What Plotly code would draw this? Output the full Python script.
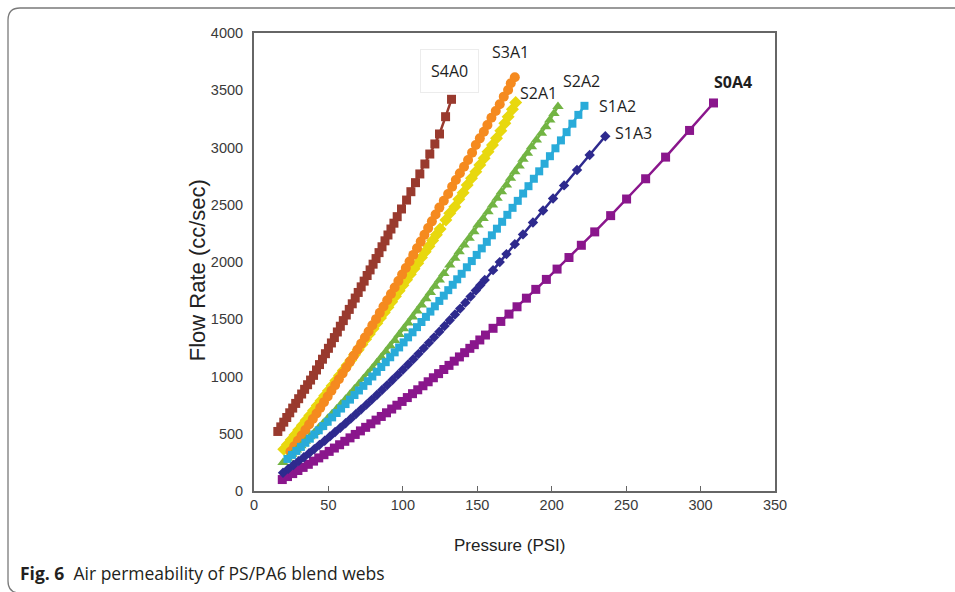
import plotly.graph_objects as go

# ---------------- data ----------------
s4a0_x = [16, 18, 20, 22, 24, 26, 28, 30, 32, 34, 36, 38, 40, 42, 44, 46, 48, 50, 52, 54,
          56, 58, 60, 62, 64, 66, 68, 70, 72, 74, 76, 78, 80, 82, 84, 86, 88, 90, 92, 94,
          96.2, 99.1, 102.5, 105.4, 108.5, 111.4, 114.8, 118.1, 121.5, 124.6, 128.7, 132.7]
s4a0_y = [520, 560, 601, 642, 683, 724, 765, 806, 847, 888, 928, 969, 1010, 1057, 1104, 1151,
          1199, 1246, 1293, 1340, 1389, 1439, 1488, 1537, 1586, 1635, 1685, 1734, 1783, 1833,
          1882, 1931, 1981, 2030, 2082, 2133, 2185, 2236, 2288, 2339,
          2396, 2463, 2541, 2614, 2693, 2769, 2856, 2943, 3031, 3118, 3269, 3421]

s3a1_x = [24.5, 27, 29.5, 32, 34.5, 37, 39.5, 42, 44.5, 47, 49.5, 52, 54.5, 57, 59.5, 62, 64.5,
          67, 69.5, 72, 74.5, 77, 79.5, 82, 84.5, 87, 89.5, 92, 94.5, 97, 99.5, 102, 104.5, 107,
          109.5, 112, 114.5, 117, 119.5, 122, 124.5,
          127.5, 130.4, 133.1, 135.6, 138.3, 141.1, 143.8, 146.5, 149, 151.7, 154.4, 156.8,
          159.5, 162.4, 165.1, 167.8, 170.7, 172.5, 175.2]
s3a1_y = [345, 391, 438, 485, 533, 581, 629, 677, 726, 776, 825, 875, 925, 976, 1027, 1078, 1130,
          1182, 1234, 1287, 1340, 1393, 1447, 1501, 1556, 1611, 1666, 1721, 1777, 1834, 1890,
          1947, 2004, 2062, 2120, 2178, 2237, 2296, 2355, 2415, 2475,
          2535, 2594, 2658, 2716, 2775, 2832, 2891, 2955, 3022, 3080, 3138, 3197, 3260, 3319,
          3377, 3444, 3502, 3561, 3613]

s2a1_x = [20, 22.5, 25, 27.5, 30, 32.5, 35, 37.5, 40, 42.5, 45, 47.5, 50, 52.5, 55, 57.5, 60,
          62.5, 65, 67.5, 70, 72.5, 75, 77.5, 80, 82.5, 85, 87.5, 90, 92.5, 95, 97.5, 100, 102.5,
          105, 107.5, 110, 112.5, 115, 117.5, 120, 122.5, 125,
          128.9, 131.5, 134.9, 137.6, 140.5, 143.2, 146.1, 149, 151.7, 154.6, 157.2, 160.2,
          162.9, 165.8, 168.5, 170.7, 173.6, 175.8]
s2a1_y = [365, 406, 448, 490, 532, 574, 617, 660, 702, 746, 789, 832, 876, 920, 964, 1009, 1053,
          1098, 1143, 1189, 1234, 1280, 1326, 1372, 1418, 1464, 1511, 1558, 1605, 1653, 1700,
          1748, 1796, 1844, 1893, 1942, 1990, 2040, 2089, 2138, 2188, 2238, 2288,
          2367, 2425, 2483, 2548, 2605, 2672, 2731, 2789, 2847, 2906, 2963, 3022, 3080, 3147,
          3211, 3269, 3333, 3394]

s2a2_x = [19.5, 22.5, 25.5, 28.5, 31.5, 34.5, 37.5, 40.5, 43.5, 46.5, 49.5, 52.5, 55.5, 58.5,
          61.5, 64.5, 67.5, 70.5, 73.5, 76.5, 79.5, 82.5, 85.5, 88.5, 91.5, 94.5, 97.5, 100.5,
          103.5, 106.5, 109.5, 112.5, 115.5, 118.5, 121.5, 124.5, 127.5,
          131.5, 134.9, 137.8, 141.1, 144.5, 147.7, 150.5, 153.9, 157.2, 160.2, 163.3, 166.2,
          169.6, 172.3, 175.2, 178.1, 180.7, 183.7, 186.4, 189.7, 193.1, 196, 198.7, 201.5, 204.2]
s2a2_y = [250, 286, 322, 359, 396, 434, 473, 512, 552, 592, 633, 674, 716, 759, 802, 846, 890,
          935, 981, 1027, 1073, 1121, 1168, 1217, 1266, 1315, 1366, 1416, 1468, 1519, 1572,
          1625, 1679, 1733, 1788, 1843, 1899,
          1974, 2032, 2090, 2148, 2207, 2265, 2323, 2381, 2439, 2498, 2556, 2614, 2672, 2731,
          2789, 2838, 2897, 2949, 3007, 3066, 3124, 3182, 3240, 3298, 3357]

s1a2_x = [22.5, 25.5, 28.5, 31.5, 34.5, 37.5, 40.5, 43.5, 46.5, 49.5, 52.5, 55.5, 58.5, 61.5,
          64.5, 67.5, 70.5, 73.5, 76.5, 79.5, 82.5, 85.5, 88.5, 91.5, 94.5, 97.5, 100.5, 103.5,
          106.5, 109.5, 112.5, 115.5, 118.5, 121.5, 124.5, 127.5, 130.5, 133.5, 136.5, 139.5,
          143, 146.3, 149.6, 153, 156.4, 159.8, 163.2, 166.7, 170.2, 173.7, 177.2, 180.8,
          184.4, 188, 191.6, 195.2, 198.8, 202.5, 206.2, 210, 213.9, 217.9, 222]
s1a2_y = [280, 315, 350, 385, 421, 457, 493, 530, 567, 605, 643, 681, 720, 759, 798, 838, 878,
          918, 959, 1000, 1041, 1083, 1125, 1168, 1211, 1254, 1298, 1342, 1386, 1431, 1476,
          1521, 1567, 1613, 1660, 1706, 1754, 1801, 1849, 1897,
          1954, 2008, 2062, 2119, 2176, 2233, 2291, 2351, 2412, 2473, 2534, 2598, 2662, 2727,
          2792, 2858, 2924, 2993, 3062, 3134, 3208, 3285, 3364]

s1a3_x = [19.5, 23, 26.5, 30, 33.5, 37, 40.5, 44, 47.5, 51, 54.5, 58, 61.5, 65, 68.5, 72, 75.5,
          79, 82.5, 86, 89.5, 93, 96.5, 100, 103.5, 107, 110.5, 114, 117.5, 121, 124.5, 128,
          131.5, 135, 138.5, 142, 145.5, 149, 152,
          155, 160.6, 165.1, 169.6, 175.2, 180.7, 187.4, 194.2, 200.9, 208.3, 217, 225.5, 236]
s1a3_y = [160, 193, 227, 261, 295, 330, 366, 403, 439, 477, 515, 553, 592, 632, 672, 713, 754,
          796, 839, 882, 925, 969, 1014, 1059, 1105, 1151, 1198, 1246, 1294, 1342, 1391, 1441,
          1491, 1542, 1593, 1645, 1698, 1751, 1797,
          1843, 1929, 1999, 2069, 2156, 2241, 2345, 2450, 2554, 2669, 2804, 2935, 3098]

s0a4_x = [19, 22.5, 26, 29.5, 33, 36.5, 40, 43.5, 47, 50.5, 54, 57.5, 61, 64.5, 68, 71.5, 75,
          78.5, 82, 85.5, 89, 92.5, 96, 99.5, 103, 106.5, 110, 113.5, 117, 120.5, 124, 127.5,
          131, 134.5, 138, 141.5, 145, 148,
          151.7, 155.5, 160.6, 165.8, 171.3, 176.7, 183, 189.3, 196.4, 203.6, 211.6, 219.9,
          228.9, 239.6, 250.3, 263.1, 276.5, 292.6, 308.7]
s0a4_y = [100, 126, 152, 179, 206, 233, 261, 289, 317, 346, 375, 404, 434, 464, 494, 525, 556,
          587, 619, 651, 683, 716, 749, 782, 816, 850, 884, 919, 954, 989, 1025, 1061, 1097,
          1134, 1171, 1208, 1246, 1278,
          1319, 1362, 1421, 1481, 1545, 1609, 1684, 1761, 1848, 1938, 2039, 2146, 2263, 2405,
          2550, 2727, 2916, 3149, 3389]

x_ticks = [0, 50, 100, 150, 200, 250, 300, 350]
y_ticks = [0, 500, 1000, 1500, 2000, 2500, 3000, 3500, 4000]

# series label text and where it sits (data coords)
labels = ["S4A0", "S3A1", "S2A1", "S2A2", "S1A2", "S1A3", "S0A4"]
label_x = [131, 172, 191, 220, 244, 255, 322]
label_y = [3665, 3830, 3480, 3580, 3360, 3130, 3570]

# ---------------- styles ----------------
series = [
    ("S2A1", s2a1_x, s2a1_y, "#E8D80E", "diamond", 10),
    ("S3A1", s3a1_x, s3a1_y, "#F58A1F", "circle", 10),
    ("S2A2", s2a2_x, s2a2_y, "#72B443", "triangle-up", 10),
    ("S1A2", s1a2_x, s1a2_y, "#29ABD9", "square", 8),
    ("S0A4", s0a4_x, s0a4_y, "#8A168C", "square", 9),
    ("S1A3", s1a3_x, s1a3_y, "#2E2A8E", "diamond", 8),
    ("S4A0", s4a0_x, s4a0_y, "#993A2E", "square", 9),
]

fig = go.Figure()
for name, xs, ys, col, sym, sz in series:
    fig.add_trace(go.Scatter(
        x=xs, y=ys, name=name, mode="lines+markers",
        line=dict(color=col, width=2.5),
        marker=dict(color=col, symbol=sym, size=sz, line=dict(width=0)),
        showlegend=False, hoverinfo="x+y+name",
    ))

tick_font = dict(family="Liberation Sans, Arial, sans-serif", size=14.5, color="#3a3a3a")

fig.update_xaxes(range=[0, 350], tickvals=x_ticks, ticktext=[str(v) for v in x_ticks],
                 showline=True, linecolor="#666666", linewidth=2, mirror=True,
                 ticks="inside", ticklen=5, tickcolor="#666666", showgrid=False,
                 zeroline=False, tickfont=tick_font)
fig.update_yaxes(range=[0, 4000], tickvals=y_ticks, ticktext=[str(v) for v in y_ticks],
                 showline=True, linecolor="#666666", linewidth=2, mirror=True,
                 ticks="", showgrid=False, zeroline=False, tickfont=tick_font,
                 ticklabelstandoff=6)

annotations = []
for i, t in enumerate(labels):
    a = dict(x=label_x[i], y=label_y[i], xref="x", yref="y", text=t, showarrow=False,
             xanchor="center", yanchor="middle",
             font=dict(family="Open Sans, Noto Sans, sans-serif", size=16, color="#1e1e1e"))
    if t == "S0A4":
        a["text"] = "<b>S0A4</b>"
    if t == "S4A0":
        a.update(bgcolor="white", bordercolor="#ececec", borderwidth=1, borderpad=10)
    annotations.append(a)

# axis titles
annotations.append(dict(x=-0.109, y=0.4825, xref="paper", yref="paper", text="Flow Rate (cc/sec)",
                        textangle=-90, showarrow=False, xanchor="center", yanchor="middle",
                        font=dict(family="Liberation Sans, Arial, sans-serif", size=22, color="#222222")))
annotations.append(dict(x=0.491, y=-0.118, xref="paper", yref="paper", text="Pressure (PSI)",
                        showarrow=False, xanchor="center", yanchor="middle",
                        font=dict(family="Liberation Sans, Arial, sans-serif",
                                  size=17, color="#222222")))
# caption
annotations.append(dict(x=-0.4525, y=-0.179, xref="paper", yref="paper", xanchor="left",
                        yanchor="middle",
                        text="<b>Fig. 6</b>  Air permeability of PS/PA6 blend webs", showarrow=False,
                        font=dict(family="Open Sans, Noto Sans, sans-serif", size=17.5, color="#231f20")))

# outer rounded frame (paper coords relative to plot area)
def px(xp):
    return (xp - 254) / 521.0

def py(yp):
    return (491 - yp) / 458.0

frame_path = (f"M {px(20)},{py(593)} Q {px(8)},{py(593)} {px(8)},{py(581)} "
              f"L {px(8)},{py(20)} Q {px(8)},{py(8)} {px(20)},{py(8)} L {px(965)},{py(8)}")

fig.update_layout(
    width=955, height=592,
    margin=dict(l=254, r=180, t=33, b=101, autoexpand=False),
    paper_bgcolor="white", plot_bgcolor="white",
    annotations=annotations,
    shapes=[dict(type="path", path=frame_path, xref="paper", yref="paper",
                 line=dict(color="#7a7a7a", width=1.3))],
)

fig.write_html("out.html", config={"displayModeBar": False},
               post_script="document.body.style.margin='0';document.body.style.overflow='hidden';")
